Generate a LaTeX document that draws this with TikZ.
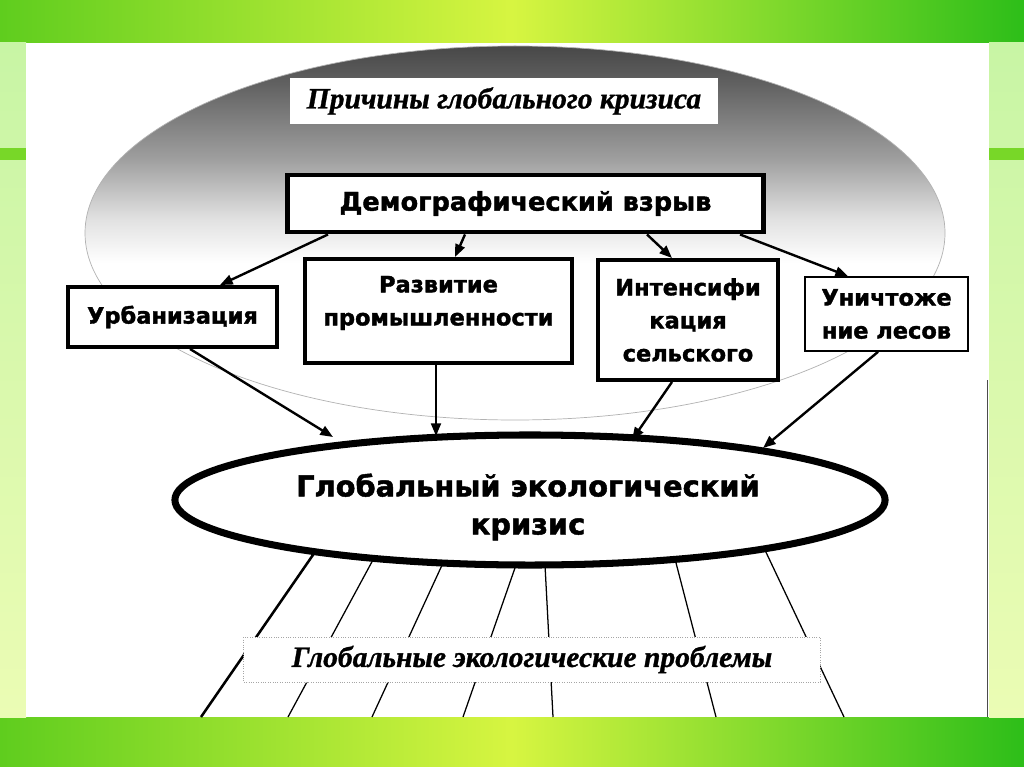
\documentclass[tikz,border=0pt]{standalone}
\usepackage{fontspec}
\setmainfont{DejaVu Sans}
\newfontfamily\heavy{DejaVu Sans}[BoldFeatures={FakeBold=1.6}]
\newfontfamily\serifit{Liberation Serif}[BoldItalicFeatures={FakeBold=1}]
\usetikzlibrary{arrows.meta,calc,shapes.geometric}
\definecolor{gLeft}{RGB}{95,205,30}
\definecolor{gMid}{RGB}{215,245,65}
\definecolor{gRight}{RGB}{45,190,25}
\definecolor{paleA}{RGB}{200,245,165}
\definecolor{paleB}{RGB}{235,252,180}
\definecolor{stripe}{RGB}{120,215,40}
\pgfdeclareverticalshading{topell}{100bp}{color(0bp)=(white); color(46bp)=(white); color(52bp)=(black!12); color(60bp)=(black!38); color(70bp)=(black!62); color(80bp)=(black!82); color(90bp)=(black!94); color(100bp)=(black)}
\begin{document}
\begin{tikzpicture}[x=0.025cm,y=-0.025cm,
  box/.style={draw,fill=white,line width=2.8pt,inner sep=0pt,align=center,font=\heavy\fontsize{16}{23.5}\selectfont\bfseries},
  boxtext/.style={align=center,inner sep=0pt,font=\heavy\fontsize{16}{23.5}\selectfont\bfseries},
  arr/.style={line width=1.7pt,-{Triangle[length=9pt,width=7pt]}},
  ray/.style={line width=0.9pt},
  itl/.style={font=\serifit\bfseries\itshape\fontsize{21}{25}\selectfont}]
\useasboundingbox (0,0) rectangle (1024,767);
% background
\shade[left color=gLeft,right color=gRight,middle color=gMid] (0,0) rectangle (1024,767);
\shade[top color=paleA,bottom color=paleB] (0,43) rectangle (26,717);
\shade[top color=paleA,bottom color=paleB] (989,43) rectangle (1024,717);
\fill[stripe] (0,148) rectangle (26,160);
\fill[stripe] (989,148) rectangle (1024,160);
\fill[white] (26,43) rectangle (989,717);
\draw[black!70,line width=0.6pt] (987,380) -- (987,717);
% shaded ellipse
\shade[shading=topell] (515,233) ellipse [x radius=430, y radius=187];
\draw[gray!60,line width=0.5pt] (515,233) ellipse [x radius=430, y radius=187];
% title
\node[fill=white,minimum width=10.7cm,minimum height=1.15cm,itl] (title) at (504,101) {Причины глобального кризиса};
% boxes
\node[box,line width=3.5pt,minimum width=11.875cm,minimum height=1.425cm,font=\heavy\fontsize{18.2}{21}\selectfont\bfseries] (demo) at (525.5,203.5) {Демографический взрыв};
\node[box,minimum width=5.225cm,minimum height=1.5cm] (urb) at (172.5,317) {Урбанизация};
\node[box,minimum width=6.675cm,minimum height=2.6cm] (razv) at (438.5,311) {};
\node[boxtext] (razvT) at (438.5,303) {Развитие\\промышленности};
\node[box,minimum width=4.5cm,minimum height=3cm] (int) at (688,320) {Интенсифи\\кация\\сельского};
\node[box,line width=1.2pt,minimum width=4.075cm,minimum height=1.85cm] (unich) at (886.5,314) {Уничтоже\\ние лесов};
% arrows from demo
\draw[arr] ($(demo.south)+(-197.5,0)$) -- ($(urb.north)+(47.5,0)$);
\draw[arr] ($(demo.south)+(-60.5,0)$) -- ($(razv.north)+(16.5,0)$);
\draw[arr] ($(demo.south)+(121.5,0)$) -- ($(int.north)+(-16,0)$);
\draw[arr] ($(demo.south)+(214.5,0)$) -- ($(unich.north)+(-38.5,0)$);
% global crisis ellipse
\node[ellipse,draw,line width=5pt,fill=white,minimum width=17.75cm,minimum height=3.25cm,inner sep=0pt] (glob) at (530,500) {};
\node[align=center,inner sep=0pt,font=\heavy\fontsize{20.5}{27}\selectfont\bfseries] (globT) at (528,507) {Глобальный экологический\\кризис};
% arrows to ellipse
\draw[arr] ($(urb.south)+(17.5,0)$) -- ($(glob.center)+(-197,-63)$);
\draw[arr] ($(razv.south)+(-2.5,0)$) -- ($(glob.center)+(-94,-64)$);
\draw[arr] ($(int.south)+(-16,0)$) -- ($(glob.center)+(102,-60)$);
\draw[arr] ($(unich.south)+(-8.5,0)$) -- ($(glob.center)+(233,-52)$);
% rays
\coordinate (b1) at (201,717);
\coordinate (b2) at (288,717);
\coordinate (b3) at (372,717);
\coordinate (b4) at (463,717);
\coordinate (b5) at (553,717);
\coordinate (b6) at (716,717);
\coordinate (b7) at (844,717);
\draw[ray,line width=1.8pt] ($(glob.center)+(-215,52)$) -- (b1);
\draw[ray] ($(glob.center)+(-156,58)$) -- (b2);
\draw[ray] ($(glob.center)+(-87,63)$) -- (b3);
\draw[ray] ($(glob.center)+(-14,65)$) -- (b4);
\draw[ray] ($(glob.center)+(15,65)$) -- (b5);
\draw[ray] ($(glob.center)+(145,59)$) -- (b6);
\draw[ray] ($(glob.center)+(234,48)$) -- (b7);
% problems box
\node[fill=white,draw=gray!70,densely dotted,line width=0.7pt,minimum width=14.4cm,minimum height=1.125cm,itl] (probl) at (532,659.5) {Глобальные экологические проблемы};
\end{tikzpicture}
\end{document}
